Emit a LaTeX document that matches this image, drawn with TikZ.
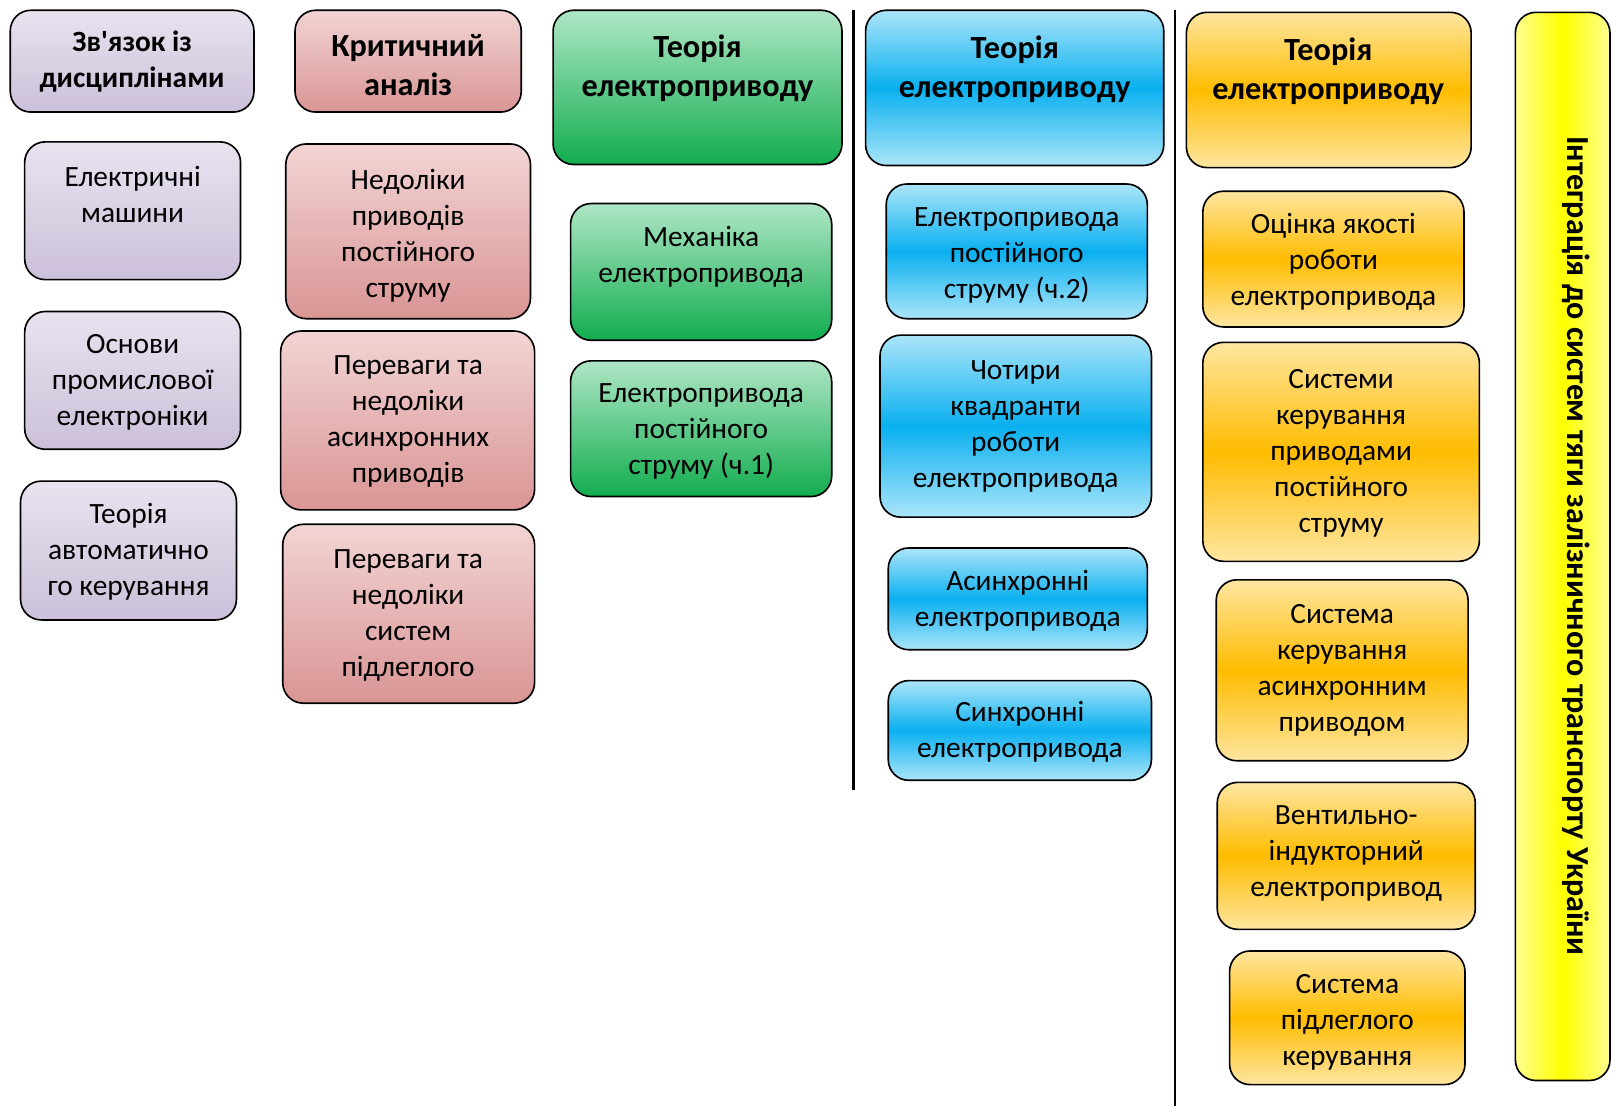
\documentclass[tikz,border=0pt]{standalone}
\usepackage{fontspec}
\setmainfont{Carlito}
\usepackage{xcolor}
\definecolor{lilacTop}{HTML}{E8E3EF}
\definecolor{lilacBot}{HTML}{CBC0D9}
\definecolor{roseTop}{HTML}{F2D4D4}
\definecolor{roseBot}{HTML}{D99594}
\definecolor{mintTop}{HTML}{AFE6C5}
\definecolor{mintBot}{HTML}{12AD4F}
\definecolor{skyLight}{HTML}{ABE5F9}
\definecolor{skyMid}{HTML}{0AB0F0}
\definecolor{amberLight}{HTML}{FFE6A1}
\definecolor{amberMid}{HTML}{FFBC00}
\definecolor{lemonLight}{HTML}{FFFF90}
\definecolor{lemonMid}{HTML}{FFFF00}

\begin{document}
\begin{tikzpicture}[x=0.5pt, y=-0.5pt,
    box/.style={draw=black, line width=0.8pt, rounded corners=10pt},
    lilac/.style={box, top color=lilacTop, bottom color=lilacBot},
    rose/.style={box, top color=roseTop, bottom color=roseBot},
    mint/.style={box, top color=mintTop, bottom color=mintBot},
    sky/.style={box, top color=skyLight, bottom color=skyLight, middle color=skyMid},
    amber/.style={box, top color=amberLight, bottom color=amberLight, middle color=amberMid},
    txt/.style={align=center, inner sep=0pt, font=\fontsize{14.3}{17.5}\selectfont},
    head/.style={align=center, inner sep=0pt, font=\fontsize{15.7}{19}\selectfont\bfseries},
    sep/.style={line width=1.2pt}]
  \useasboundingbox (0,0) rectangle (1568,1076);

  % Column: disciplines
  \draw[lilac] (10,10) rectangle (247,109);
  \node[head, font=\fontsize{14.3}{17.5}\selectfont\bfseries] (links) at (128.5,60) {Зв\textquotesingle язок із\\дисциплінами};
  \draw[lilac] (24,138) rectangle (234,272);
  \node[txt] (machines) at (129,189) {Електричні\\машини};
  \draw[lilac] (24,303) rectangle (234,437);
  \node[txt] (electronics) at (129,372) {Основи\\промислової\\електроніки};
  \draw[lilac] (20,468) rectangle (230,603);
  \node[txt] (control) at (125,537) {Теорія\\автоматично\\го керування};

  % Column: critical analysis
  \draw[rose] (287,10) rectangle (507,109);
  \node[head] (critic) at (397,63) {Критичний\\аналіз};
  \draw[rose] (278,140) rectangle (516,310);
  \node[txt] (dcflaws) at (397,229) {Недоліки\\приводів\\постійного\\струму};
  \draw[rose] (273,322) rectangle (520,496);
  \node[txt] (acpros) at (397,410) {Переваги та\\недоліки\\асинхронних\\приводів};
  \draw[rose] (275,510) rectangle (520,684);
  \node[txt] (cascpros) at (397,599) {Переваги та\\недоліки\\систем\\підлеглого};

  % Column: theory, part 1
  \draw[mint] (538,10) rectangle (819,160);
  \node[head] (theoryA) at (678.5,66) {Теорія\\електроприводу};
  \draw[mint] (555,198) rectangle (809,331);
  \node[txt] (mechanics) at (682,249.5) {Механіка\\електропривода};
  \draw[mint] (555,351) rectangle (809,483);
  \node[txt] (dcone) at (682,420) {Електропривода\\постійного\\струму (ч.1)};

  \draw[sep] (830,10) -- (830,768);

  % Column: theory, part 2
  \draw[sky] (842,10) rectangle (1132,161);
  \node[head] (theoryB) at (987,67) {Теорія\\електроприводу};
  \draw[sky] (862,179) rectangle (1116,310);
  \node[txt] (dctwo) at (989,248) {Електропривода\\постійного\\струму (ч.2)};
  \draw[sky] (856,326) rectangle (1120,503);
  \node[txt] (quadrants) at (988,414.5) {Чотири\\квадранти\\роботи\\електропривода};
  \draw[sky] (864,533) rectangle (1116,632);
  \node[txt] (async) at (990,584) {Асинхронні\\електропривода};
  \draw[sky] (864,662) rectangle (1120,759);
  \node[txt] (sync) at (992,712) {Синхронні\\електропривода};

  \draw[sep] (1143,10) -- (1143,1076);

  % Column: theory, part 3
  \draw[amber] (1154,12) rectangle (1431,163);
  \node[head] (theoryC) at (1292,69) {Теорія\\електроприводу};
  \draw[amber] (1170,186) rectangle (1424,318);
  \node[txt] (quality) at (1297,255) {Оцінка якості\\роботи\\електропривода};
  \draw[amber] (1170,333) rectangle (1439,546);
  \node[txt] (dcctrl) at (1304.5,440.5) {Системи\\керування\\приводами\\постійного\\струму};
  \draw[amber] (1183,564) rectangle (1428,740);
  \node[txt] (acctrl) at (1305.5,652.5) {Система\\керування\\асинхронним\\приводом};
  \draw[amber] (1184,761) rectangle (1435,904);
  \node[txt] (switched) at (1309.5,830) {Вентильно-\\індукторний\\електропривод};
  \draw[amber] (1196,925) rectangle (1425,1055);
  \node[txt] (cascade) at (1310.5,994) {Система\\підлеглого\\керування};

  % Integration bar
  \draw[box, left color=lemonLight, right color=lemonLight, middle color=lemonMid] (1474,12) rectangle (1566,1051);
  \node[head, font=\fontsize{15.6}{19}\selectfont\bfseries, rotate=-90] (integration) at (1533,531)
    {Інтеграція до систем тяги залізничного транспорту України};
\end{tikzpicture}
\end{document}
